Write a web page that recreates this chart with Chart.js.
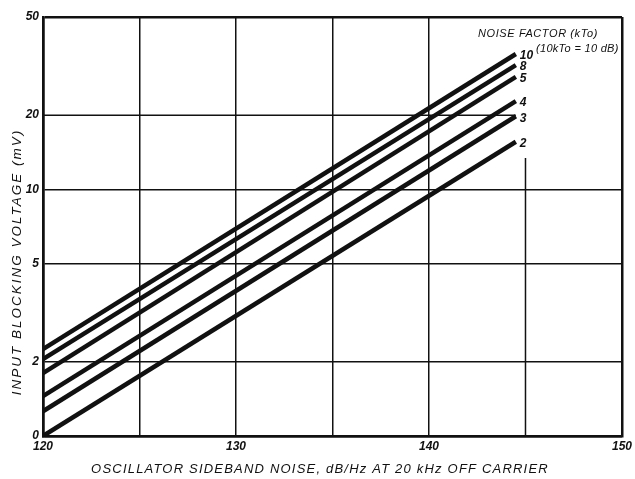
<!DOCTYPE html>
<html>
<head>
<meta charset="utf-8">
<script src="https://cdn.jsdelivr.net/npm/chart.js@4"></script>
<style>
  body { margin: 0; background: #fff; }
  #wrap { width: 635px; height: 479px; }
</style>
</head>
<body>
<div id="wrap"><canvas id="myChart" width="635" height="479"></canvas></div>
<script>
// noise factor curves (kTo), straight lines on the log scale
const noiseFactors = ['10', '8', '5', '4', '3', '2'];
const xStart = 120;
const xEnd = 144.5;
const voltsAtStart = [2.25, 2.05, 1.8, 1.45, 1.26, 1.0];
const voltsAtEnd = [35.4, 31.9, 28.6, 22.8, 19.8, 15.6];

const xTicks = [120, 125, 130, 135, 140, 145, 150];
const xTickLabels = ['120', '', '130', '', '140', '', '150'];
const yTicks = [1, 2, 5, 10, 20, 50];
const yTickLabels = ['0', '2', '5', '10', '20', '50'];

const INK = '#111';

const datasets = noiseFactors.map((nf, i) => ({
    label: nf,
    data: [{ x: xStart, y: voltsAtStart[i] }, { x: xEnd, y: voltsAtEnd[i] }],
    borderColor: INK,
    borderWidth: 4.5,
    pointRadius: 0,
    fill: false,
    tension: 0,
}));

// short grid pieces (145 line and 20 line stop near the labels), titles, curve labels
const extras = {
    id: 'extras',
    beforeDatasetsDraw(chart) {
        const { ctx, scales: { x, y } } = chart;
        ctx.save();
        ctx.strokeStyle = INK;
        ctx.lineWidth = 1.5;
        ctx.beginPath();
        ctx.moveTo(x.getPixelForValue(145), y.getPixelForValue(1));
        ctx.lineTo(x.getPixelForValue(145), y.getPixelForValue(13.4));
        ctx.moveTo(x.getPixelForValue(120), y.getPixelForValue(20));
        ctx.lineTo(x.getPixelForValue(xEnd), y.getPixelForValue(20));
        ctx.stroke();
        ctx.restore();
    },
    afterDatasetsDraw(chart) {
        const { ctx } = chart;
        ctx.save();
        ctx.fillStyle = INK;
        ctx.textBaseline = 'middle';
        ctx.font = 'italic bold 12px "Liberation Sans"';
        chart.data.datasets.forEach((ds, i) => {
            const pts = chart.getDatasetMeta(i).data;
            const p = pts[pts.length - 1];
            ctx.textAlign = 'left';
            ctx.fillText(ds.label, p.x + 4, p.y + 2);
        });

        ctx.font = 'italic 11px "Liberation Sans"';
        ctx.letterSpacing = '0.6px';
        ctx.textAlign = 'left';
        ctx.fillText('NOISE FACTOR (kTo)', 478, 34);
        ctx.letterSpacing = '0.3px';
        ctx.fillText('(10kTo = 10 dB)', 536, 49);

        // axis titles
        ctx.font = 'italic 13px "Liberation Sans"';
        ctx.letterSpacing = '1.2px';
        ctx.textAlign = 'center';
        ctx.fillText('OSCILLATOR SIDEBAND NOISE, dB/Hz AT 20 kHz OFF CARRIER', 320, 469);

        ctx.translate(17, 262);
        ctx.rotate(-Math.PI / 2);
        ctx.font = 'italic 13.5px "Liberation Sans"';
        ctx.letterSpacing = '2px';
        ctx.fillText('INPUT BLOCKING VOLTAGE (mV)', 0, 0);
        ctx.restore();
    }
};

const ctx = document.getElementById('myChart').getContext('2d');
let myChart = new Chart(ctx, {
    type: 'line',
    data: { datasets: datasets },
    options: {
        responsive: false,
        animation: false,
        layout: { padding: { top: 17, right: 13, left: 0, bottom: 0 } },
        plugins: {
            legend: { display: false },
            tooltip: { enabled: false },
        },
        scales: {
            x: {
                type: 'linear',
                min: 120,
                max: 150,
                afterFit(scale) { scale.height = 43; },
                afterBuildTicks(scale) { scale.ticks = xTicks.map(v => ({ value: v })); },
                ticks: {
                    color: INK,
                    padding: 3,
                    maxRotation: 0,
                    font: { family: 'Liberation Sans', style: 'italic', weight: 'bold', size: 12 },
                    callback: (v) => xTickLabels[xTicks.indexOf(v)],
                },
                grid: {
                    drawTicks: false,
                    color: (c) => (c.tick && c.tick.value === 145 ? 'rgba(0,0,0,0)' : INK),
                    lineWidth: (c) => (c.tick && (c.tick.value === 150 || c.tick.value === 120) ? 2.5 : 1.5),
                },
                border: { color: INK, width: 2.5 },
            },
            y: {
                type: 'logarithmic',
                min: 1,
                max: 50,
                afterFit(scale) { scale.width = 43; },
                afterBuildTicks(scale) { scale.ticks = yTicks.map(v => ({ value: v })); },
                ticks: {
                    color: INK,
                    padding: 4,
                    font: { family: 'Liberation Sans', style: 'italic', weight: 'bold', size: 12 },
                    callback: (v) => yTickLabels[yTicks.indexOf(v)],
                },
                grid: {
                    drawTicks: false,
                    color: (c) => (c.tick && c.tick.value === 20 ? 'rgba(0,0,0,0)' : INK),
                    lineWidth: (c) => (c.tick && (c.tick.value === 50 || c.tick.value === 1) ? 2.5 : 1.5),
                },
                border: { color: INK, width: 2.5 },
            },
        },
    },
    plugins: [extras],
});
</script>
</body>
</html>
